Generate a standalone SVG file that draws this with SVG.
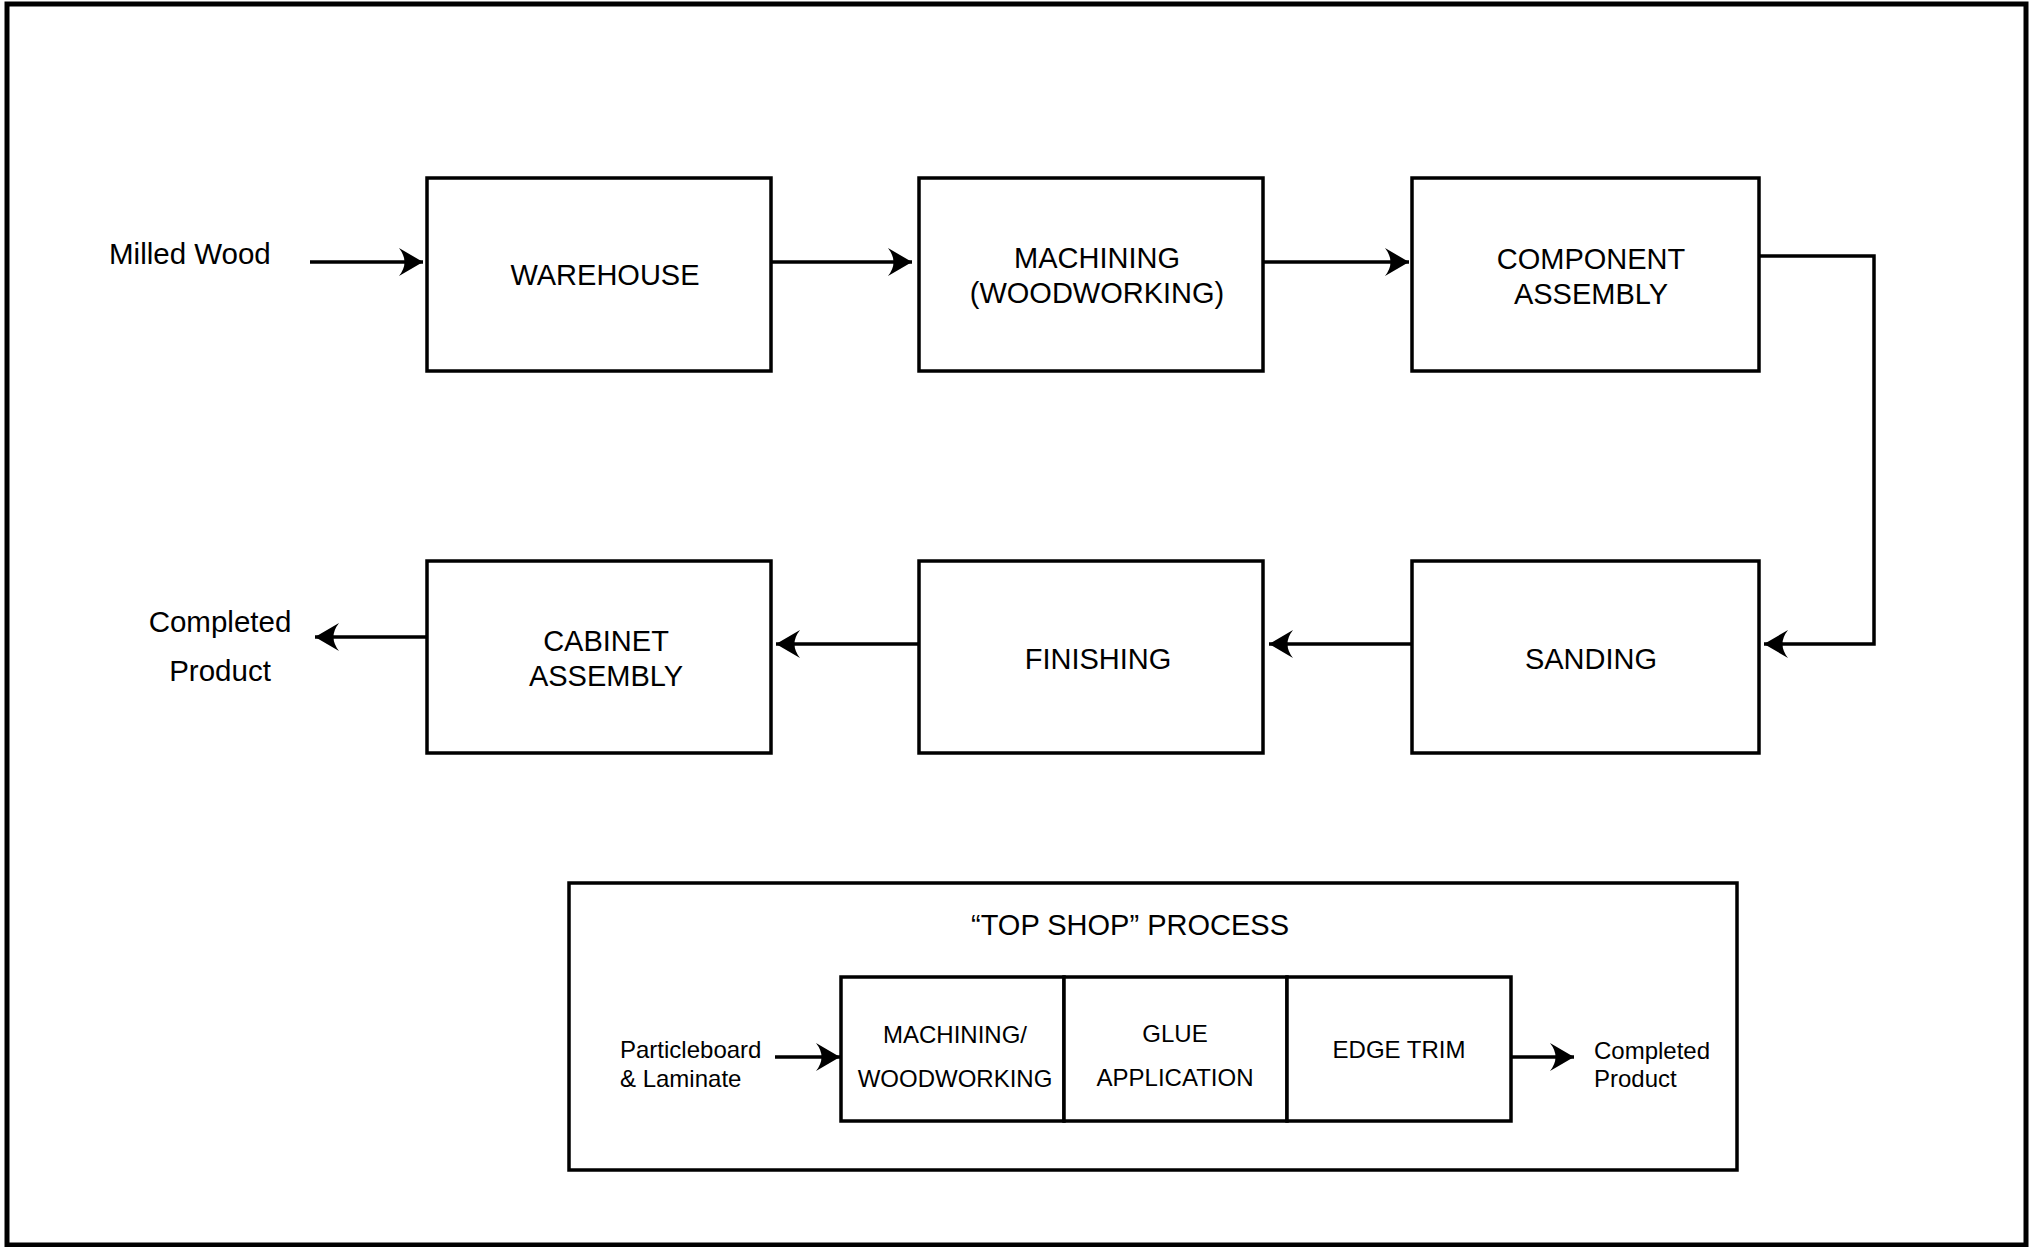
<svg xmlns="http://www.w3.org/2000/svg" width="2035" height="1247" viewBox="0 0 2035 1247">
<style>
.box{fill:#fff;stroke:#000;stroke-width:3.5}
.t{font-family:"Liberation Sans",Arial,sans-serif;font-size:29px;fill:#000;text-anchor:middle}
.l{font-family:"Liberation Sans",Arial,sans-serif;font-size:29.5px;fill:#000}
.s{font-family:"Liberation Sans",Arial,sans-serif;font-size:24px;fill:#000}
.c{text-anchor:middle}
.con{fill:none;stroke:#000;stroke-width:3.5;marker-end:url(#ah)}
</style>
<defs>
<marker id="ah" markerUnits="userSpaceOnUse" viewBox="-27 -16 30 32" refX="0" refY="0" markerWidth="30" markerHeight="32" orient="auto">
<path d="M0,0 L-24,-14 Q-13,0 -24,14 Z" fill="#000"/>
</marker>
</defs>
<rect x="0" y="0" width="2035" height="1247" fill="#fff"/>
<rect x="7" y="4" width="2019" height="1241" fill="none" stroke="#000" stroke-width="5"/>

<g id="milled-wood"><text class="l" x="109" y="264">Milled Wood</text></g>
<g id="warehouse"><rect class="box" x="427" y="178" width="344" height="193"/><text class="t" x="605" y="285">WAREHOUSE</text></g>
<g id="machining"><rect class="box" x="919" y="178" width="344" height="193"/><text class="t" x="1097" y="268">MACHINING</text><text class="t" x="1097" y="303">(WOODWORKING)</text></g>
<g id="component-assembly"><rect class="box" x="1412" y="178" width="347" height="193"/><text class="t" x="1591" y="269">COMPONENT</text><text class="t" x="1591" y="304">ASSEMBLY</text></g>
<g id="sanding"><rect class="box" x="1412" y="561" width="347" height="192"/><text class="t" x="1591" y="669">SANDING</text></g>
<g id="finishing"><rect class="box" x="919" y="561" width="344" height="192"/><text class="t" x="1098" y="669">FINISHING</text></g>
<g id="cabinet-assembly"><rect class="box" x="427" y="561" width="344" height="192"/><text class="t" x="606" y="651">CABINET</text><text class="t" x="606" y="686">ASSEMBLY</text></g>
<g id="completed-product"><text class="l c" x="220" y="632">Completed</text><text class="l c" x="220" y="681">Product</text></g>

<g id="top-shop">
<rect class="box" x="569" y="883" width="1168" height="287"/>
<text class="t" x="1130" y="935">“TOP SHOP” PROCESS</text>
</g>
<g id="ts-particleboard"><text class="s" x="620" y="1058">Particleboard</text><text class="s" x="620" y="1087">&amp; Laminate</text></g>
<g id="ts-machining"><rect class="box" x="841" y="977" width="223" height="144"/><text class="s c" x="955" y="1043">MACHINING/</text><text class="s c" x="955" y="1087">WOODWORKING</text></g>
<g id="ts-glue"><rect class="box" x="1064" y="977" width="223" height="144"/><text class="s c" x="1175" y="1042">GLUE</text><text class="s c" x="1175" y="1086">APPLICATION</text></g>
<g id="ts-edge-trim"><rect class="box" x="1287" y="977" width="224" height="144"/><text class="s c" x="1399" y="1058">EDGE TRIM</text></g>
<g id="ts-completed"><text class="s" x="1594" y="1059">Completed</text><text class="s" x="1594" y="1087">Product</text></g>

<g id="connectors">
<path class="con" d="M310,262 H423"/>
<path class="con" d="M771,262 H912"/>
<path class="con" d="M1263,262 H1409"/>
<path class="con" d="M1759,256 H1874 V644 H1764"/>
<path class="con" d="M1412,644 H1269"/>
<path class="con" d="M919,644 H776"/>
<path class="con" d="M427,637 H315"/>
<path class="con" d="M775,1057 H840"/>
<path class="con" d="M1511,1057 H1574"/>
</g>
</svg>
